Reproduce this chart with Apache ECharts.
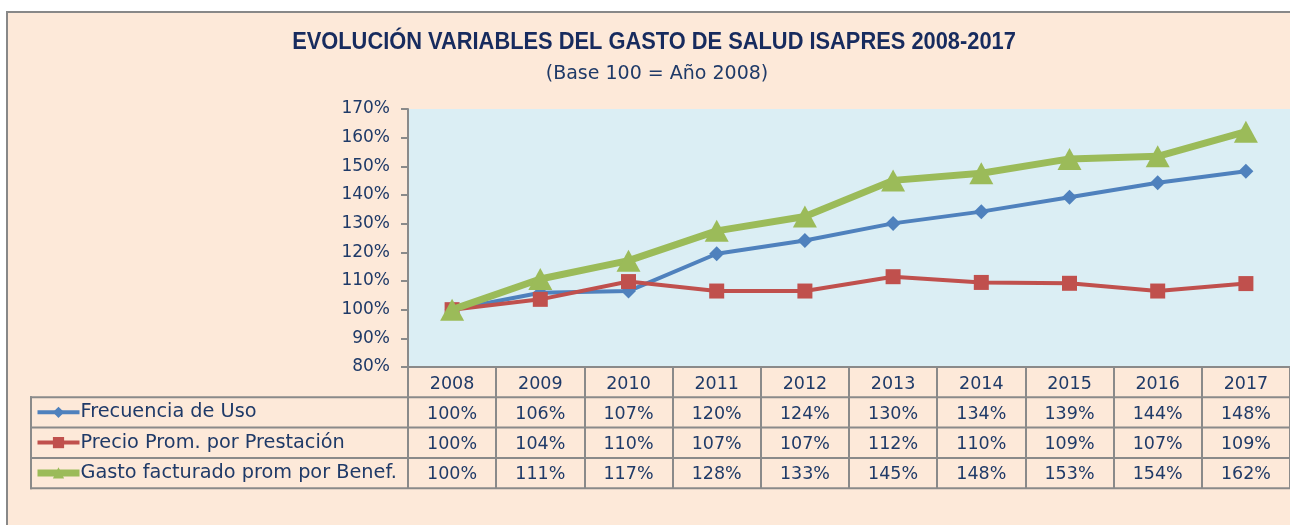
<!DOCTYPE html>
<html>
<head>
<meta charset="utf-8">
<script src="https://cdn.jsdelivr.net/npm/echarts@6/dist/echarts.min.js"></script>
<style>
html,body{margin:0;padding:0;background:#ffffff;}
#chart{width:1290px;height:525px;}
</style>
</head>
<body>
<div id="chart"></div>
<script>
// ---- data ----
const years = ['2008','2009','2010','2011','2012','2013','2014','2015','2016','2017'];
const frecuenciaUso = [100, 105.9, 106.5, 119.5, 124.1, 130.1, 134.2, 139.2, 144.3, 148.3];
const precioProm = [100, 103.6, 109.8, 106.5, 106.5, 111.5, 109.5, 109.2, 106.5, 109.1];
const gastoFacturado = [100, 110.7, 117.1, 127.5, 132.5, 145.1, 147.6, 152.6, 153.5, 162.1];
const seriesNames = ['Frecuencia de Uso', 'Precio Prom. por Prestación', 'Gasto facturado prom por Benef.'];
const titleText = 'EVOLUCIÓN VARIABLES DEL GASTO DE SALUD ISAPRES 2008-2017';
const subtitleText = '(Base 100 = Año 2008)';
const yMin = 80, yMax = 170, yStep = 10;

// ---- style ----
const FONT = '"DejaVu Sans", sans-serif';
const NAVY = '#1F3A68';
const GRAY = '#8a8a8a';
const COLORS = ['#4F81BD', '#C0504D', '#9BBB59'];
const GL = 408, GT = 109, GW = 885, GH = 258;
const ROW = 30.3;
const TBL_LEFT = 31;

const seriesData = [frecuenciaUso, precioProm, gastoFacturado];
const rowLabels = seriesData.map(arr => arr.map(v => Math.round(v) + '%'));

const labelStyle = {interval: 0, margin: 8, color: NAVY, fontFamily: FONT, fontSize: 17.5};

const xAxes = [{
  type: 'category', gridIndex: 0, data: years, boundaryGap: true, position: 'bottom',
  axisLine: {show: true, lineStyle: {color: GRAY, width: 2}},
  axisTick: {show: true, interval: 0, length: ROW * 4, lineStyle: {color: GRAY, width: 2}},
  axisLabel: labelStyle,
  splitLine: {show: false}
}];
rowLabels.forEach((r, i) => {
  xAxes.push({
    type: 'category', gridIndex: 0, data: r, boundaryGap: true, position: 'bottom',
    offset: ROW * (i + 1),
    axisLine: {show: false}, axisTick: {show: false},
    axisLabel: labelStyle, splitLine: {show: false}
  });
});

const tableTop = GT + GH + ROW;
const tableBottom = GT + GH + ROW * 4;
const graphics = [
  {type: 'rect', z: -100, shape: {x: 7, y: 12, width: 1320, height: 560},
   style: {fill: '#FDE9D9', stroke: '#888888', lineWidth: 2}},
  {type: 'text', x: 654, y: 42, scaleX: 0.91, z: 10,
   style: {text: titleText, font: 'bold 24px "Liberation Sans", Arial, sans-serif', fill: '#172B5E', align: 'center', verticalAlign: 'middle'}},
  {type: 'text', x: 657, y: 74, z: 10,
   style: {text: subtitleText, font: '19px ' + FONT, fill: NAVY, align: 'center', verticalAlign: 'middle'}},
  {type: 'line', z: 10, shape: {x1: TBL_LEFT, y1: tableTop - 1, x2: TBL_LEFT, y2: tableBottom + 1},
   style: {stroke: GRAY, lineWidth: 2}}
];
for (let k = 1; k <= 4; k++) {
  const y = GT + GH + ROW * k;
  graphics.push({type: 'line', z: 10, shape: {x1: TBL_LEFT - 1, y1: y, x2: GL + GW, y2: y},
    style: {stroke: GRAY, lineWidth: 2}});
}

const symbols = ['diamond', 'rect', 'triangle'];
const symbolSizes = [[15, 15], [15, 15], [24, 22]];
const lineWidths = [4, 4, 7];

const option = {
  backgroundColor: '#ffffff',
  animation: false,
  grid: {left: GL, top: GT, width: GW, height: GH, show: true, backgroundColor: '#DBEEF4', borderWidth: 0},
  legend: {
    orient: 'vertical', left: 34, top: tableTop, padding: 0,
    itemWidth: 42, itemHeight: 14, itemGap: 0.3,
    data: seriesNames,
    lineStyle: {width: 'inherit'},
    textStyle: {color: NAVY, fontFamily: FONT, fontSize: 19.3, lineHeight: 30, padding: [0, 0, 0, -4]},
    selectedMode: false
  },
  xAxis: xAxes,
  yAxis: {
    type: 'value', min: yMin, max: yMax, interval: yStep,
    axisLine: {show: true, lineStyle: {color: GRAY, width: 2}},
    axisTick: {show: true, length: 7, lineStyle: {color: GRAY, width: 2}},
    axisLabel: {formatter: '{value}%', margin: 18, color: NAVY, fontFamily: FONT, fontSize: 17},
    splitLine: {show: false}
  },
  graphic: {elements: graphics},
  series: seriesNames.map((name, i) => ({
    name: name, type: 'line', xAxisIndex: 0, yAxisIndex: 0,
    data: seriesData[i],
    symbol: symbols[i], symbolSize: symbolSizes[i], showAllSymbol: true,
    itemStyle: {color: COLORS[i]},
    lineStyle: {color: COLORS[i], width: lineWidths[i]},
    z: 3 + i
  }))
};

const chart = echarts.init(document.getElementById('chart'), null, {renderer: 'canvas'});
chart.setOption(option);
</script>
</body>
</html>
